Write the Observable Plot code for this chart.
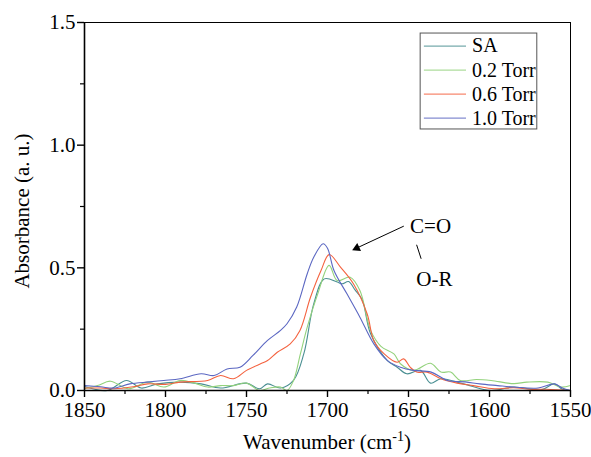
<!DOCTYPE html>
<html>
<head>
<meta charset="utf-8">
<script src="https://cdn.jsdelivr.net/npm/d3@7"></script>
<script src="https://cdn.jsdelivr.net/npm/@observablehq/plot@0.6"></script>
<style>
  html, body { margin: 0; padding: 0; background: #fff; }
  #chart { width: 591px; height: 457px; }
  #chart svg, #chart svg text, #chart svg tspan { font-family: "Liberation Serif", "Times New Roman", serif !important; }
</style>
</head>
<body>
<div id="chart"></div>
<script>
// ---- Data ----
const seriesNames = ["SA", "0.2 Torr", "0.6 Torr", "1.0 Torr"];
const seriesColors = ["#4a8f92", "#93d27c", "#f4623f", "#5b67c2"];

const saWn  = [1850, 1836, 1824, 1815, 1805, 1791, 1778, 1766, 1750, 1742, 1737, 1729, 1721, 1714.6, 1708.5, 1702, 1694, 1691, 1687, 1683, 1678.6, 1673.4, 1663, 1657, 1651, 1642.6, 1636.4, 1630, 1616, 1599, 1585, 1568, 1560, 1555, 1550];
const saAbs = [0.016, 0.0, 0.041, 0.01, 0.027, 0.034, 0.027, 0.01, 0.03, 0.007, 0.027, 0.01, 0.041, 0.15, 0.353, 0.455, 0.442, 0.435, 0.444, 0.41, 0.37, 0.231, 0.122, 0.095, 0.068, 0.082, 0.03, 0.048, 0.027, 0.0, 0.014, 0.003, 0.027, 0.005, 0.0];

const t02Wn  = [1850, 1842, 1834, 1823, 1811, 1801, 1791, 1782, 1774, 1766, 1758, 1750, 1742, 1736, 1729, 1725, 1721, 1716.7, 1712.5, 1706, 1699, 1694, 1686, 1680, 1673.4, 1667, 1659, 1655, 1647, 1636.4, 1630, 1624, 1618, 1608, 1599, 1585, 1577, 1564, 1556, 1550];
const t02Abs = [0.007, 0.02, 0.038, 0.007, 0.034, 0.014, 0.041, 0.03, 0.014, 0.02, 0.02, 0.03, 0.0, 0.01, 0.014, 0.0, 0.04, 0.15, 0.258, 0.394, 0.51, 0.448, 0.462, 0.408, 0.245, 0.18, 0.149, 0.109, 0.082, 0.111, 0.075, 0.075, 0.041, 0.045, 0.041, 0.028, 0.034, 0.034, 0.014, 0.02];

const t06Wn  = [1850, 1840, 1832, 1820, 1811, 1800, 1791, 1774, 1766, 1758, 1750, 1741, 1737, 1731, 1723, 1717, 1710.5, 1704, 1699, 1692, 1684, 1675.5, 1671.4, 1665, 1657, 1653, 1649, 1645, 1638.5, 1630, 1620, 1610, 1597, 1585, 1575, 1565, 1550];
const t06Abs = [0.01, 0.01, 0.007, 0.015, 0.027, 0.025, 0.034, 0.041, 0.061, 0.048, 0.082, 0.11, 0.122, 0.156, 0.19, 0.245, 0.38, 0.489, 0.554, 0.503, 0.435, 0.312, 0.204, 0.149, 0.115, 0.129, 0.095, 0.075, 0.075, 0.048, 0.03, 0.02, 0.007, 0.011, 0.005, 0.005, 0.0];

const t10Wn  = [1850, 1840, 1832, 1822, 1810, 1801, 1791, 1778, 1770, 1762, 1754, 1746, 1737, 1729, 1725, 1719, 1712.5, 1708.5, 1702.7, 1700, 1696, 1688, 1680, 1671.4, 1663, 1655, 1647, 1636, 1626, 1615, 1606, 1595, 1585, 1570, 1560, 1555, 1550];
const t10Abs = [0.02, 0.015, 0.01, 0.027, 0.035, 0.041, 0.048, 0.068, 0.061, 0.088, 0.095, 0.143, 0.204, 0.245, 0.272, 0.34, 0.476, 0.543, 0.598, 0.58, 0.489, 0.394, 0.299, 0.19, 0.122, 0.095, 0.082, 0.075, 0.041, 0.035, 0.027, 0.02, 0.014, 0.01, 0.027, 0.01, 0.0];

const xMajorTicks = [1850, 1800, 1750, 1700, 1650, 1600, 1550];
const xMinorTicks = [1825, 1775, 1725, 1675, 1625, 1575];
const yMajorTicks = [0, 0.5, 1.0, 1.5];
const yMinorTicks = [0.25, 0.75, 1.25];

const xLabelMain = "Wavenumber (cm";
const xLabelSup = "-1";
const yLabel = "Absorbance (a. u.)";
const annotTop = "C=O";
const annotBottom = "O-R";

// ---- Build tables ----
const wnSets = [saWn, t02Wn, t06Wn, t10Wn];
const absSets = [saAbs, t02Abs, t06Abs, t10Abs];
const rows = [];
seriesNames.forEach((name, i) => {
  wnSets[i].forEach((w, j) => rows.push({series: name, wn: w, abs: absSets[i][j]}));
});

// legend placement in data units
const legendX1 = 1642.5, legendX2 = 1570.5, legendYTop = 1.455, legendYBot = 1.064;
const legendRowY = [1.404, 1.306, 1.208, 1.11];
const legendLineX1 = 1640.5, legendLineX2 = 1614.5, legendTextX = 1610.8;
const legendRows = seriesNames.map((s, i) => ({series: s, y: legendRowY[i]}));

const colorOf = Object.fromEntries(seriesNames.map((s, i) => [s, seriesColors[i]]));
const FONT = "'Liberation Serif', 'Times New Roman', serif";

const plot = Plot.plot({
  width: 591,
  height: 457,
  marginLeft: 84,
  marginRight: 21,
  marginTop: 22,
  marginBottom: 67,
  style: `font-family: ${FONT}; font-size: 20px; background: #fff; color: #000;`,
  x: {domain: [1850, 1550], label: null},
  y: {domain: [0, 1.5], label: null},
  marks: [
    Plot.line(rows, {x: "wn", y: "abs", z: "series", stroke: d => colorOf[d.series], strokeWidth: 1.1, curve: "catmull-rom"}),
    // frame
    Plot.frame({stroke: "#000", strokeWidth: 1}),
    Plot.ruleX([1850], {stroke: "#000", strokeWidth: 1.6}),
    Plot.ruleY([0], {stroke: "#000", strokeWidth: 1.6}),
    // axes
    Plot.axisX(xMajorTicks, {tickSize: 7, tickPadding: 5, tickFormat: d => String(d), strokeWidth: 1.4, fontSize: 21}),
    Plot.axisX(xMinorTicks, {tickSize: 4, tickFormat: () => "", strokeWidth: 1.2}),
    Plot.axisY(yMajorTicks, {tickSize: 7, tickPadding: 2, tickFormat: d3.format(".1f"), strokeWidth: 1.4, fontSize: 21}),
    Plot.axisY(yMinorTicks, {tickSize: 4, tickFormat: () => "", strokeWidth: 1.2}),
    // legend
    Plot.rect([{}], {x1: legendX1, x2: legendX2, y1: legendYBot, y2: legendYTop, fill: "#fff", stroke: "#555", strokeWidth: 1}),
    Plot.link(legendRows, {x1: legendLineX1, x2: legendLineX2, y1: "y", y2: "y", stroke: d => colorOf[d.series], strokeWidth: 1.2, strokeOpacity: 0.75}),
    Plot.text(legendRows, {x: legendTextX, y: "y", text: "series", textAnchor: "start", fontSize: 20, fill: "#000"}),
    // annotation
    Plot.link([{}], {x1: 1652.9, y1: 0.670, x2: 1681.5, y2: 0.582, stroke: "#000", strokeWidth: 1}),
    Plot.dot([{}], {x: 1681.9, y: 0.5805, symbol: "triangle", r: 3.3, rotate: 245, fill: "#000", stroke: "none"}),
    Plot.link([{}], {x1: 1645, y1: 0.594, x2: 1642.2, y2: 0.537, stroke: "#000", strokeWidth: 1}),
    Plot.text([annotTop], {x: 1636.4, y: 0.67, text: d => d, fontSize: 21, fill: "#000"}),
    Plot.text([annotBottom], {x: 1634, y: 0.452, text: d => d, fontSize: 21, fill: "#000"})
  ]
});

const svg = d3.select(plot);
// x-axis label with superscript
const xl = svg.append("text")
  .attr("x", 327).attr("y", 449)
  .attr("text-anchor", "middle")
  .attr("font-size", 21)
  .attr("fill", "#000");
xl.append("tspan").text(xLabelMain);
xl.append("tspan").attr("dy", -8).attr("font-size", 14).text(xLabelSup);
xl.append("tspan").attr("dy", 8).text(")");
// y-axis label
svg.append("text")
  .attr("transform", "translate(29,211) rotate(-90)")
  .attr("text-anchor", "middle")
  .attr("font-size", 21)
  .attr("fill", "#000")
  .text(yLabel);

svg.style("font-family", FONT);
svg.selectAll("text, tspan").style("font-family", FONT);

document.getElementById("chart").appendChild(plot);
</script>
</body>
</html>
